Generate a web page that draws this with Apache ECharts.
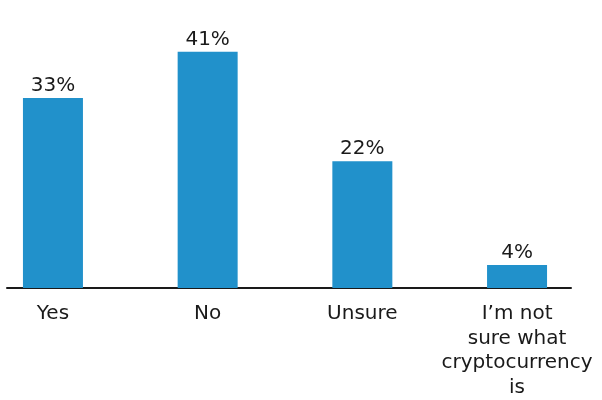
<!DOCTYPE html>
<html>
<head>
<meta charset="utf-8">
<script src="https://cdn.jsdelivr.net/npm/echarts@6/dist/echarts.min.js"></script>
<style>
  html, body { margin: 0; padding: 0; background: #fff; }
  #chart { width: 602px; height: 400px; }
</style>
</head>
<body>
<div id="chart"></div>
<script>
// Survey answers and their shares (percent)
const categories = ['Yes', 'No', 'Unsure', 'I\u2019m not\nsure what\ncryptocurrency\nis'];
const shares = [33, 41, 22, 4];

const FONT = '"DejaVu Sans", sans-serif';
const BLUE = '#2191CB';

const chart = echarts.init(document.getElementById('chart'), null, { renderer: 'canvas' });
chart.setOption({
  animation: false,
  grid: [
    // bar area: category bands are wider than the page, so let it overflow
    { left: -24.4, right: 7.6, top: 0, bottom: 112, containLabel: false, outerBoundsMode: 'none' },
    // baseline rule, narrower than the category band
    { left: 7, right: 31, top: 0, bottom: 112, containLabel: false, outerBoundsMode: 'none' }
  ],
  xAxis: [
    {
      gridIndex: 0,
      type: 'category',
      data: categories,
      axisLine: { show: false },
      axisTick: { show: false },
      axisLabel: {
        color: '#1a1a1a',
        fontFamily: FONT,
        fontSize: 20,
        lineHeight: 24.5,
        margin: 14,
        interval: 0
      }
    },
    {
      gridIndex: 1,
      type: 'value',
      min: 0, max: 1,
      axisLine: { show: true, onZero: false, lineStyle: { color: '#1a1a1a', width: 2 } },
      axisTick: { show: false },
      axisLabel: { show: false },
      splitLine: { show: false }
    }
  ],
  yAxis: [
    { gridIndex: 0, type: 'value', min: 0, max: 50, show: false },
    { gridIndex: 1, type: 'value', min: 0, max: 1, show: false }
  ],
  series: [
    {
      type: 'bar',
      xAxisIndex: 0,
      yAxisIndex: 0,
      data: shares,
      barWidth: 60,
      itemStyle: { color: BLUE },
      label: {
        show: true,
        position: 'top',
        distance: 2,
        color: '#1a1a1a',
        fontFamily: FONT,
        fontSize: 20,
        formatter: p => p.value + '%'
      }
    }
  ]
});
</script>
</body>
</html>
